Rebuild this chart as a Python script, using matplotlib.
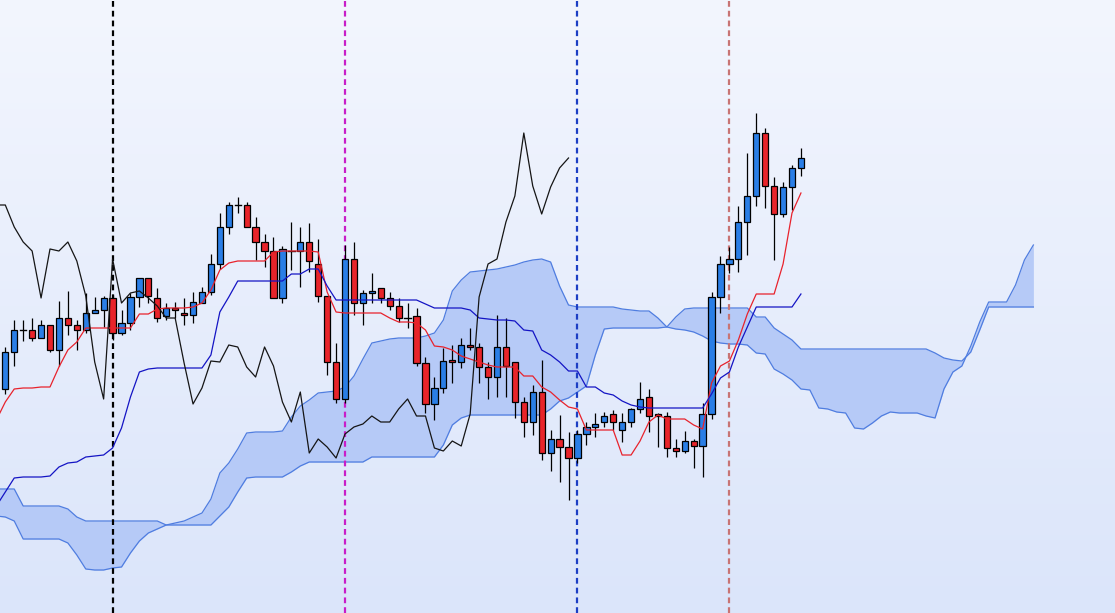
import numpy as np
import matplotlib
matplotlib.use("Agg")
import matplotlib.pyplot as plt
from matplotlib.patches import Rectangle
from matplotlib.colors import LinearSegmentedColormap

# ---- candle data (index 0..89) ----
opens = [611,648,670,670,662,675,650,682,675,670,
         687,690,702,667,677,703,722,702,684,692,
         687,685,697,708,736,773,795,795,773,758,
         749,702,749,749,758,736,704,638,601,741,
         697,707,712,702,694,682,684,637,596,612,
         640,638,655,653,633,623,653,638,598,578,
         608,547,561,553,542,566,573,578,586,570,
         578,591,603,586,584,552,549,559,554,586,
         703,736,741,778,804,867,814,786,813,832]
highs = [653,680,680,682,680,675,699,709,680,707,
         703,704,705,690,707,722,722,712,697,698,
         702,708,713,746,787,798,803,798,783,766,
         763,754,778,773,777,761,704,657,755,758,
         710,727,712,708,702,697,692,643,623,652,
         655,662,672,657,638,685,682,638,603,615,
         640,570,585,568,570,578,587,588,590,587,
         592,618,611,587,588,561,569,561,597,708,
         744,753,794,847,887,872,823,818,835,852]
lows = [606,634,659,659,662,648,634,665,650,667,
        687,673,660,665,670,693,697,678,680,682,
        675,677,697,705,731,766,787,773,740,733,
        702,697,730,713,728,698,625,597,597,685,
        675,697,697,690,678,672,634,587,580,607,
        617,632,650,617,601,603,603,582,563,565,
        540,529,518,500,537,555,563,573,570,558,
        573,587,568,553,543,543,547,532,523,581,
        687,727,728,745,794,792,740,783,790,824]
closes = [648,670,670,662,675,650,682,675,670,687,
          690,702,667,677,703,722,704,682,692,690,
          685,698,708,736,773,795,795,773,758,749,
          702,751,749,758,739,704,638,601,741,697,
          707,709,702,694,682,682,637,596,612,639,
          638,655,653,633,623,653,634,598,578,608,
          547,561,553,542,566,573,576,584,578,578,
          591,601,584,584,552,549,559,554,586,703,
          736,741,778,804,867,814,786,813,832,842]

# ---- indicator lines (index -1..89) ----
tenkan = [580,
          598,611,612,612,613,613,633,650,658,672,
          672,672,672,672,672,686,686,691,692,692,
          692,693,697,710,730,737,739,739,739,739,
          748,749,749,749,749,748,708,688,687,687,
          687,687,687,682,678,678,677,670,654,653,
          650,644,641,638,635,633,633,633,624,624,
          613,608,600,593,591,570,570,570,570,545,
          545,559,578,585,581,581,581,575,571,617,
          634,639,660,686,706,706,706,736,787,807]
kijun = [494,
         508,522,523,523,523,524,533,537,538,543,
         544,545,552,572,603,628,631,632,632,632,
         632,632,632,645,688,703,719,719,719,719,
         719,719,726,726,731,731,714,700,700,700,
         700,700,700,700,700,700,700,696,692,692,
         692,692,690,682,681,680,680,679,670,669,
         650,645,638,629,629,613,613,607,605,599,
         595,593,592,592,592,592,592,592,592,606,
         622,628,653,673,693,693,693,693,693,706]

# ---- cloud spans (index -1..115) ----
span_a = [484,
          483,479,461,461,461,461,461,457,445,431,
          430,430,432,433,447,459,467,471,475,477,
          479,483,487,501,527,537,551,567,568,568,
          568,569,583,594,600,607,608,609,613,624,
          641,657,659,661,662,662,662,664,667,680,
          709,720,728,729,730,731,733,735,738,740,
          741,738,714,695,693,693,693,693,693,691,
          690,689,689,682,673,671,670,668,664,659,
          657,656,656,655,647,646,631,626,620,611,
          610,592,591,588,587,572,571,577,584,588,
          587,587,587,584,582,611,628,634,654,678,
          698,698,698,715,740,755]
span_b = [511,
          511,511,494,494,494,494,494,491,483,479,
          479,479,479,479,479,479,479,479,475,475,
          475,475,475,475,484,493,508,522,523,523,
          523,523,528,534,538,538,538,538,538,538,
          538,543,543,543,543,543,543,543,543,555,
          575,582,585,585,585,585,585,585,585,585,
          585,591,599,602,608,614,645,671,672,672,
          672,672,672,672,673,683,691,692,692,692,
          692,692,692,692,683,683,672,666,660,651,
          651,651,651,651,651,651,651,651,651,651,
          651,651,651,651,647,642,640,639,648,670,
          693,693,693,693,693,693]

chikou_shift = 26
vline_idx = [12, 38, 64, 81]
vline_colors = ["#000000", "#c81ec8", "#1c3ec4", "#c87474"]

UP = "#2a7ee6"
DOWN = "#e8242a"

fig = plt.figure(figsize=(11.15, 6.13), dpi=100)
ax = fig.add_axes([0, 0, 1, 1])
xmin, xmax = -0.593, 124.13
ymin, ymax = 387, 1000
ax.set_xlim(xmin, xmax)
ax.set_ylim(ymin, ymax)
ax.axis("off")

bg = LinearSegmentedColormap.from_list("bg", ["#f3f6fe", "#dbe5fa"])
ax.imshow(np.linspace(0, 1, 256).reshape(-1, 1), extent=[xmin, xmax, ymin, ymax],
          aspect="auto", cmap=bg, zorder=0, interpolation="bicubic")

# cloud
xs = np.arange(-1, 116)
a = np.array(span_a, float)
b = np.array(span_b, float)
ax.fill_between(xs, a, b, color="#b6caf7", lw=0, zorder=1)
ax.plot(xs, a, color="#4f7de0", lw=0.9, zorder=2)
ax.plot(xs, b, color="#4f7de0", lw=0.9, zorder=2)

# vertical dashed markers
for vi, vc in zip(vline_idx, vline_colors):
    ax.axvline(vi, color=vc, lw=1.6, linestyle=(0, (2.6, 1.8)), zorder=3)

# candles
w = 0.7
for i, (o, h, l, c) in enumerate(zip(opens, highs, lows, closes)):
    ax.plot([i, i], [l, h], color="black", lw=0.9, zorder=4, solid_capstyle="butt")
    if o == c:
        ax.plot([i - w / 2, i + w / 2], [o, c], color="black", lw=1.0, zorder=5)
    else:
        col = UP if c > o else DOWN
        ax.add_patch(Rectangle((i - w / 2, min(o, c)), w, abs(c - o), facecolor=col,
                               edgecolor="black", lw=0.9, zorder=5))

# lines
xl = np.arange(-1, 90)
ax.plot(xl, tenkan, color="#e8222c", lw=0.9, zorder=6)
ax.plot(xl, kijun, color="#1414c4", lw=0.9, zorder=6)
cl = np.array(closes, float)
xc = np.arange(25, 90) - chikou_shift
ax.plot(xc, cl[25:90], color="#151515", lw=0.9, zorder=6)

fig.savefig("out.png", dpi=100)
